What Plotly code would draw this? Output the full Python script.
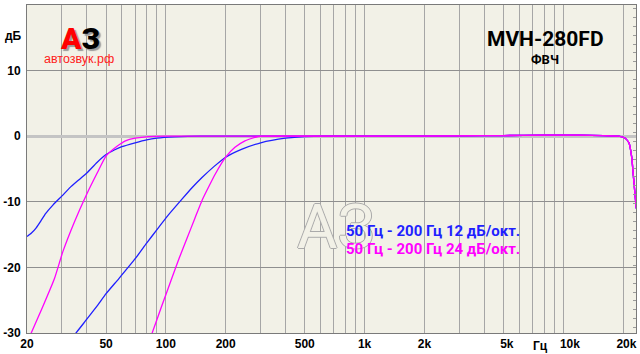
import math
import plotly.graph_objects as go

# ---- data ----
b50_freq = [20, 21, 22.2, 23.5, 24.8, 27, 30, 33, 36, 40, 45, 50, 55, 60, 70, 80, 90, 110, 150, 300]
b50_db = [-15.3, -14.8, -14.0, -12.9, -11.8, -10.5, -9.1, -7.8, -6.8, -5.6, -4.0, -2.8, -2.1, -1.6, -1.0, -0.55, -0.3, -0.1, 0, 0]

m50_freq = [20, 21, 24, 27.5, 30.3, 34.6, 40, 45.3, 50, 57, 62.6, 70, 82, 100, 300]
m50_db = [-31.5, -30, -26, -21.7, -17.6, -13.1, -8.8, -5.5, -3.0, -1.5, -0.7, -0.3, -0.05, 0, 0]

b200_freq = [33, 35.3, 40, 45, 50, 58, 70.4, 80, 90.4, 103, 120.5, 135, 152, 175, 200, 240, 300, 400, 500, 700]
b200_db = [-31.3, -30, -27.9, -25.9, -24.0, -21.7, -18.6, -16.3, -14.2, -12.0, -9.6, -7.9, -6.3, -4.6, -3.2, -2.0, -1.0, -0.3, -0.05, 0]

m200_freq = [82, 85.3, 95, 107, 117, 127.6, 140, 152, 165, 177, 200, 222.6, 250, 291, 400, 700]
m200_db = [-31.3, -30, -26.0, -21.7, -18.5, -15.6, -12.5, -9.8, -7.6, -5.8, -3.2, -1.7, -0.7, -0.05, 0, 0]

tail_freq = [1000, 3000, 5000, 8000, 12000, 16000, 19000, 20500, 21400, 22100, 22600, 23300]
tail_db = [0, 0.05, 0.1, 0.15, 0.15, 0.1, 0, -0.3, -1.0, -3.2, -6.5, -11]

grid_freqs = [20, 30, 40, 50, 60, 70, 80, 90, 100, 200, 300, 400, 500, 600, 700, 800, 900,
              1000, 2000, 3000, 4000, 5000, 6000, 7000, 8000, 9000, 10000, 20000]
NB = "\u00a0"
label_map = {20: "20", 50: "50", 100: "100", 200: "200", 500: "500", 1000: "1k",
             2000: "2k", 5000: NB * 2 + "5k", 10000: NB * 4 + "10k", 20000: NB * 2 + "20k"}
y_ticks = [-30, -20, -10, 0, 10, 20]

BLUE = "#1f1fff"
MAG = "#ff00ff"

fig = go.Figure()

def add(fx, fy, color):
    fig.add_trace(go.Scatter(x=fx + tail_freq, y=fy + tail_db, mode="lines",
                             line=dict(color=color, width=1.3, shape="spline", smoothing=0.4),
                             hoverinfo="skip", showlegend=False))

add(b50_freq, b50_db, BLUE)
add(b200_freq, b200_db, BLUE)
add(m50_freq, m50_db, MAG)
add(m200_freq, m200_db, MAG)

# invisible copy on the right-hand axis so that its small ticks are drawn
fig.add_trace(go.Scatter(x=b50_freq, y=b50_db, yaxis="y2", mode="lines", opacity=0,
                         showlegend=False, hoverinfo="skip"))

W, H = 640, 354
L, R, T, B = 24, 3, 5, 19
pw, ph = W - L - R, H - T - B

def px(x):
    return (x - L) / pw

def py(y):
    return (H - B - y) / ph

fig.update_layout(
    width=W, height=H,
    margin=dict(l=L, r=R, t=T, b=B),
    paper_bgcolor="white",
    plot_bgcolor="#f2f1e7",
    xaxis=dict(type="log", range=[math.log10(20), 4.366],
               tickvals=grid_freqs, ticktext=[label_map.get(v, "") for v in grid_freqs],
               showgrid=True, gridcolor="#a6a6a6", gridwidth=1,
               ticks="", showline=True, linecolor="#7a7a7a", linewidth=1, mirror=True,
               ticklabeloverflow="allow",
               tickfont=dict(family="Liberation Sans", size=12, color="black", weight="bold"),
               zeroline=False),
    yaxis=dict(range=[-30, 20], tickvals=y_ticks, ticktext=[str(v) for v in y_ticks],
               showgrid=True, gridcolor="#8f8f8f", gridwidth=1,
               zeroline=True, zerolinecolor="#c4c4c4", zerolinewidth=3,
               ticks="", showline=True, linecolor="#7a7a7a", linewidth=1, mirror=True,
               ticklabelstandoff=3,
               tickfont=dict(family="Liberation Sans", size=12, color="black", weight="bold")),
    yaxis2=dict(range=[-30, 20], overlaying="y", side="right", anchor="x",
                showgrid=False, zeroline=False, showticklabels=False,
                ticks="inside", ticklen=3, tickcolor="#9a9a9a", tick0=-30.5, dtick=1.35,
                showline=False),
)

ann = [
    dict(text="АЗ", x=px(335), y=py(228),
         font=dict(family="Roboto", size=62, color="#f2f1e7",
                   shadow="1px 0 0 #aaaaaa, -1px 0 0 #aaaaaa, 0 1px 0 #aaaaaa, 0 -1px 0 #aaaaaa")),
    dict(text="дБ", x=px(10), y=py(36), font=dict(family="Liberation Sans", size=12, color="black", weight="bold")),
    dict(text="MVH-280FD", x=px(546), y=py(39), font=dict(family="Roboto", size=21, color="black", weight="bold")),
    dict(text="ФВЧ", x=px(545), y=py(60), font=dict(family="Roboto", size=13, color="black", weight="bold")),
    dict(text="<span style='color:#ff0000'>А</span>З", x=px(77), y=py(39),
         font=dict(family="Roboto", size=30, color="black", weight=900, shadow="2px 2px 1px #999")),
    dict(text="автозвук.рф", x=px(76.5), y=py(59), font=dict(family="Liberation Sans", size=12.5, color="#ff2020")),
    dict(text="Гц", x=px(541), y=py(348), font=dict(family="Liberation Sans", size=12, color="black", weight="bold")),
    dict(text="50 Гц - 200 Гц 12 дБ/окт.", x=px(343), y=py(232), xanchor="left",
         font=dict(family="Roboto", size=15, color=BLUE, weight="bold")),
    dict(text="50 Гц - 200 Гц 24 дБ/окт.", x=px(343), y=py(250), xanchor="left",
         font=dict(family="Roboto", size=15, color=MAG, weight="bold")),
]
for a in ann:
    a.setdefault("xanchor", "center")
    fig.add_annotation(xref="paper", yref="paper", showarrow=False, yanchor="middle", **a)

fig.write_html("out.html")
